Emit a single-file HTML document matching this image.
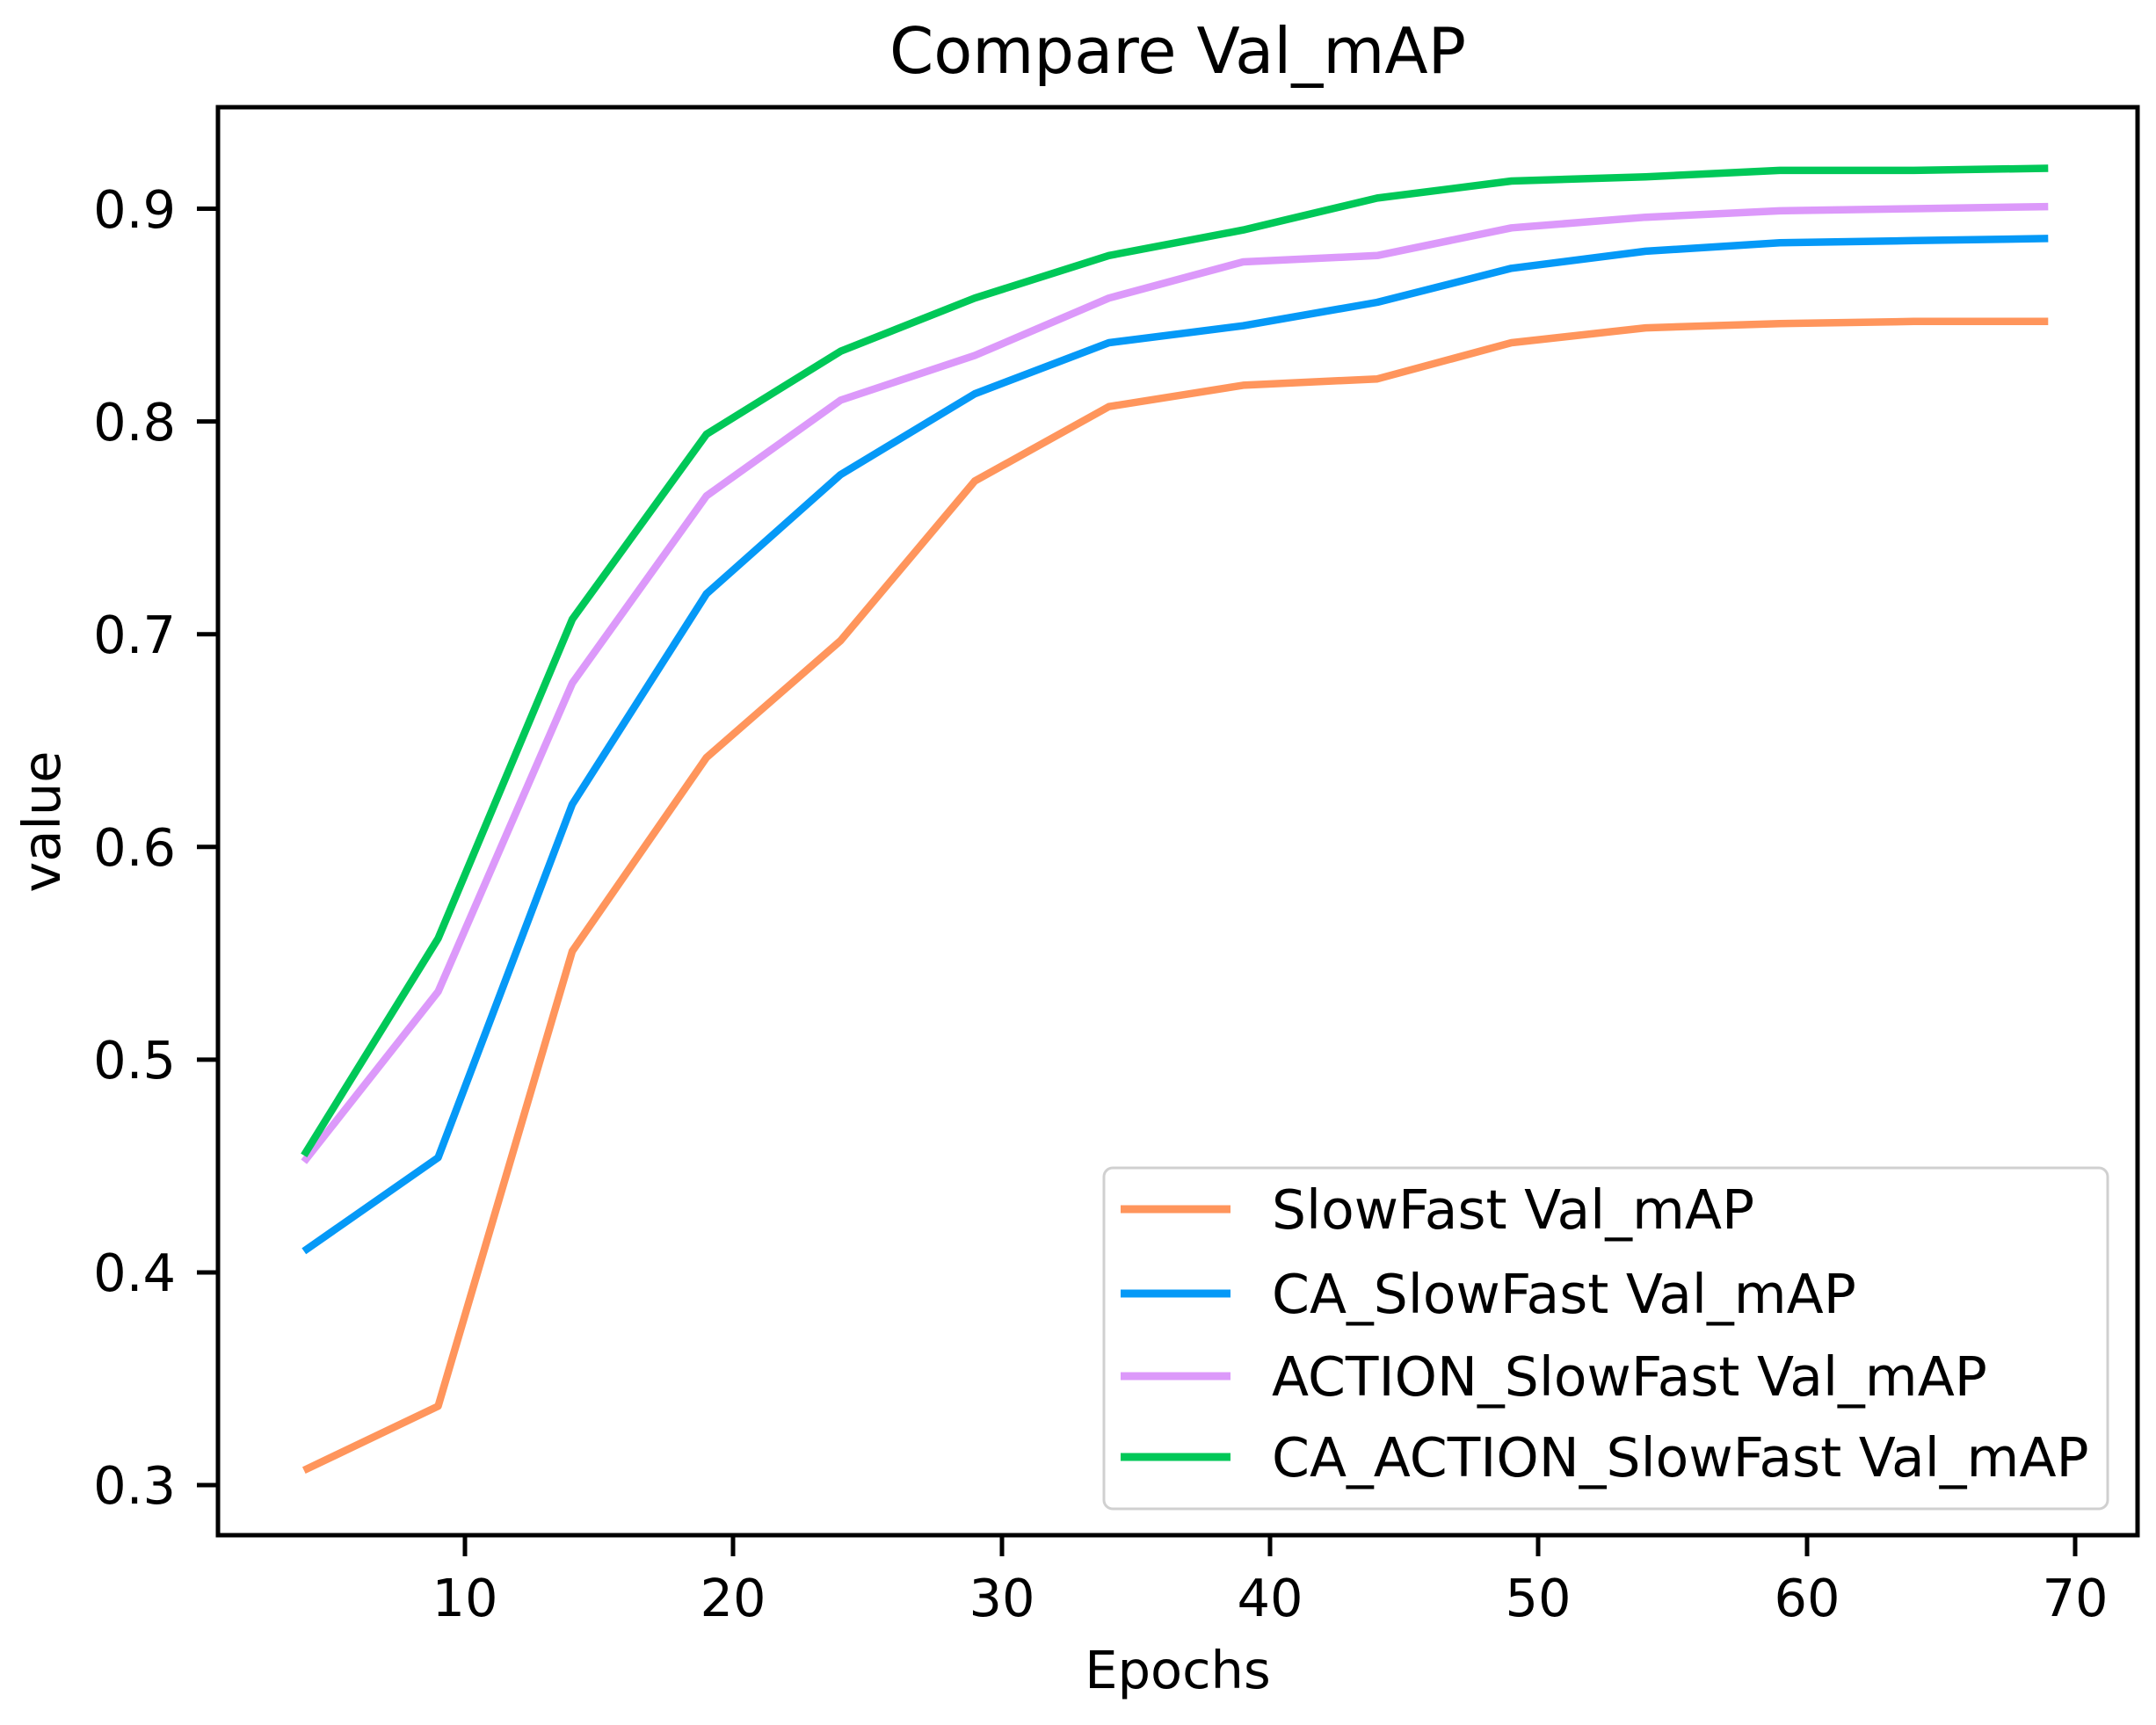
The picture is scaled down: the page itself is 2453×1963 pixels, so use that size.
<!DOCTYPE html>
<html><head><meta charset="utf-8"><style>html,body{margin:0;padding:0;background:#fff}svg{display:block}</style></head>
<body>
<svg xmlns="http://www.w3.org/2000/svg" width="2453" height="1963" viewBox="0 0 2453 1963" font-family="DejaVu Sans, Liberation Sans, sans-serif">
<rect width="2453" height="1963" fill="#fff"/>
<g fill="none" stroke-width="8.5" stroke-linejoin="round">
<polyline stroke="#ff955c" points="345.8,1673.2 498.5,1600.2 651.1,1082.4 803.8,862.1 956.4,729.0 1109.1,547.4 1261.7,462.7 1414.4,438.4 1567.0,431.2 1719.7,390.0 1872.3,373.1 2025.0,368.2 2177.6,365.8 2330.3,365.8"/>
<polyline stroke="#0599f7" points="345.8,1423.8 498.5,1317.3 651.1,915.4 803.8,675.7 956.4,540.1 1109.1,448.1 1261.7,390.0 1414.4,370.7 1567.0,344.0 1719.7,305.3 1872.3,285.9 2025.0,276.2 2177.6,273.8 2330.3,271.4"/>
<polyline stroke="#dc99fa" points="345.8,1322.1 498.5,1128.4 651.1,777.4 803.8,564.3 956.4,455.4 1109.1,404.5 1261.7,339.2 1414.4,298.0 1567.0,290.8 1719.7,259.3 1872.3,247.2 2025.0,239.9 2177.6,237.5 2330.3,235.1"/>
<polyline stroke="#00c858" points="345.8,1314.8 498.5,1067.9 651.1,704.8 803.8,494.1 956.4,399.7 1109.1,339.2 1261.7,290.8 1414.4,261.7 1567.0,225.4 1719.7,206.0 1872.3,201.2 2025.0,193.9 2177.6,193.9 2330.3,191.5"/>
</g>
<g stroke="#000" stroke-width="5" fill="none">
<rect x="248" y="122" width="2184" height="1625"/>
<line x1="224" y1="237.5" x2="248" y2="237.5"/><line x1="224" y1="479.6" x2="248" y2="479.6"/>
<line x1="224" y1="721.7" x2="248" y2="721.7"/><line x1="224" y1="963.8" x2="248" y2="963.8"/>
<line x1="224" y1="1205.9" x2="248" y2="1205.9"/><line x1="224" y1="1448" x2="248" y2="1448"/>
<line x1="224" y1="1690" x2="248" y2="1690"/>
<line x1="529" y1="1747" x2="529" y2="1771"/><line x1="834" y1="1747" x2="834" y2="1771"/>
<line x1="1140" y1="1747" x2="1140" y2="1771"/><line x1="1445" y1="1747" x2="1445" y2="1771"/>
<line x1="1750" y1="1747" x2="1750" y2="1771"/><line x1="2056" y1="1747" x2="2056" y2="1771"/>
<line x1="2361" y1="1747" x2="2361" y2="1771"/>
</g>
<g font-size="59" fill="#000" text-anchor="end">
<text x="200" y="259">0.9</text><text x="200" y="501">0.8</text><text x="200" y="743">0.7</text>
<text x="200" y="985">0.6</text><text x="200" y="1227">0.5</text><text x="200" y="1469">0.4</text><text x="200" y="1711">0.3</text>
</g>
<g font-size="59" fill="#000" text-anchor="middle">
<text x="529" y="1839">10</text><text x="834" y="1839">20</text><text x="1140" y="1839">30</text>
<text x="1445" y="1839">40</text><text x="1750" y="1839">50</text><text x="2056" y="1839">60</text><text x="2361" y="1839">70</text>
<text x="1340" y="1921">Epochs</text>
<text transform="translate(68,935) rotate(-90)">value</text>
</g>
<text x="1340" y="83" font-size="72" text-anchor="middle" fill="#000">Compare Val_mAP</text>
<rect x="1256" y="1329" width="1142" height="388" rx="10" fill="#fff" fill-opacity="0.85" stroke="#d0d0d0" stroke-width="3"/>
<g stroke-width="9">
<line x1="1275" y1="1376" x2="1400" y2="1376" stroke="#ff955c"/>
<line x1="1275" y1="1472" x2="1400" y2="1472" stroke="#0599f7"/>
<line x1="1275" y1="1566" x2="1400" y2="1566" stroke="#dc99fa"/>
<line x1="1275" y1="1658" x2="1400" y2="1658" stroke="#00c858"/>
</g>
<g font-size="61.5" fill="#000">
<text x="1447" y="1398">SlowFast Val_mAP</text>
<text x="1447" y="1494">CA_SlowFast Val_mAP</text>
<text x="1447" y="1588">ACTION_SlowFast Val_mAP</text>
<text x="1447" y="1680">CA_ACTION_SlowFast Val_mAP</text>
</g>
</svg>
</body></html>
